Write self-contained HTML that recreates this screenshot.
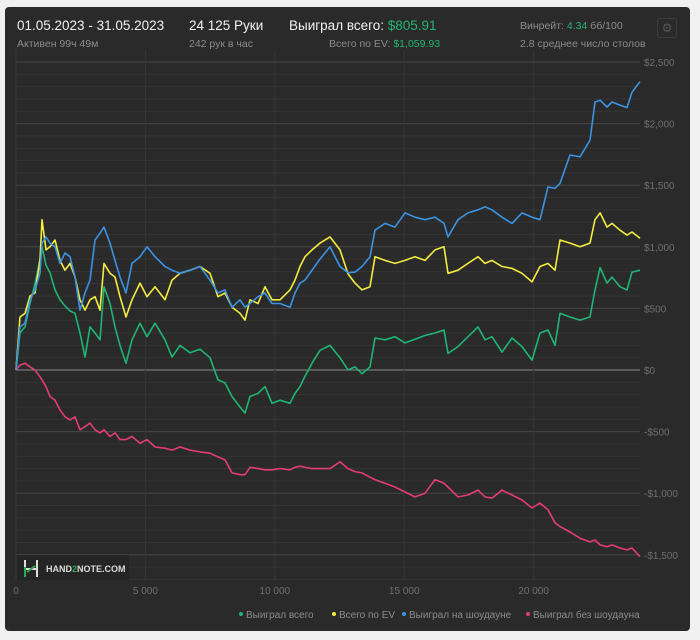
<!DOCTYPE html>
<html><head><meta charset="utf-8"><style>
html,body{margin:0;padding:0;background:#f0f0f0;width:700px;height:640px;overflow:hidden;font-family:"Liberation Sans","DejaVu Sans",sans-serif;}
#panel{position:absolute;left:5px;top:7px;width:685px;height:624px;background:#2a2a2a;border-radius:4px;}
.t{position:absolute;white-space:nowrap;}
.big{font-size:13.5px;color:#f2f2f2;}
.sm{font-size:10.5px;color:#8c8c8c;}
.g{color:#22b573;}
#gear{position:absolute;left:652px;top:11px;width:18px;height:18px;border:1px solid #3c3c3c;border-radius:3px;color:#555;font-size:12px;text-align:center;line-height:18px;}
svg{position:absolute;left:0;top:0;}
</style></head><body>
<div id="panel">
<div class="t big" style="left:12px;top:11px">01.05.2023 - 31.05.2023</div>
<div class="t sm" style="left:12px;top:31px">Активен 99ч 49м</div>
<div class="t big" style="left:184px;top:11px">24 125 Руки</div>
<div class="t sm" style="left:184px;top:31px">242 рук в час</div>
<div class="t big" style="left:284px;top:11px">Выиграл всего: <span class="g">$805.91</span></div>
<div class="t sm" style="left:324px;top:31px">Всего по EV: <span class="g">$1,059.93</span></div>
<div class="t sm" style="left:515px;top:13px">Винрейт: <span class="g">4.34</span> бб/100</div>
<div class="t sm" style="left:515px;top:31px">2.8 среднее число столов</div>
<div id="gear">⚙</div>
</div>
<svg id="chart" width="700" height="640"></svg>
<script>
const hands=[0,155,348,541,734,927,1005,1159,1314,1507,1700,1893,2087,2280,2473,2666,2859,3053,3246,3400,3632,3825,4019,4250,4482,4791,5062,5371,5757,6028,6337,6724,7110,7496,7805,8076,8346,8655,8849,9042,9351,9621,9892,10201,10587,10780,10974,11167,11437,11747,12133,12519,12828,13099,13369,13679,13872,14258,14645,15031,15417,15804,16190,16538,16692,17079,17465,17852,18122,18393,18779,19165,19552,19938,20247,20556,20826,21020,21406,21793,22179,22372,22566,22836,23029,23338,23608,23802,24111];
const wonTotal=[0,300,350,540,700,900,1000,850,790,650,570,520,480,460,300,105,350,300,245,675,540,350,200,55,245,380,270,380,245,105,200,140,170,100,-80,-105,-215,-300,-350,-215,-190,-135,-270,-245,-270,-190,-135,-50,55,160,200,100,0,25,-30,25,260,245,270,220,250,280,300,325,135,190,270,350,245,270,145,260,190,80,300,325,200,460,430,405,430,650,830,705,755,675,650,795,810];
const evTotal=[0,430,460,600,625,890,1220,975,1000,1055,890,810,865,755,570,485,570,595,485,865,785,755,595,430,570,705,595,675,570,730,785,810,840,785,595,625,510,460,405,570,540,675,570,570,650,730,840,920,975,1030,1080,975,780,705,650,675,920,890,865,890,920,890,975,1000,785,810,865,920,865,890,840,825,785,715,840,865,810,1055,1030,1000,1030,1220,1275,1160,1190,1135,1095,1120,1070];
const showdown=[0,350,380,570,650,785,1030,1080,1030,1000,865,950,920,755,485,625,730,1055,1110,1160,1030,890,755,625,865,920,1000,920,840,810,785,810,840,730,625,650,510,570,510,540,595,625,540,540,510,625,705,730,810,900,1000,840,790,795,840,920,1135,1190,1160,1275,1240,1220,1240,1190,1080,1220,1275,1300,1325,1300,1240,1190,1275,1240,1220,1485,1475,1515,1745,1730,1865,2175,2190,2135,2175,2150,2130,2255,2340];
const nonShowdown=[0,40,55,25,0,-55,-80,-135,-215,-245,-325,-380,-405,-380,-485,-460,-430,-485,-510,-485,-540,-510,-565,-565,-540,-595,-565,-625,-635,-650,-625,-650,-665,-675,-705,-730,-835,-850,-850,-790,-800,-810,-810,-800,-810,-790,-780,-790,-800,-800,-800,-745,-800,-825,-835,-870,-890,-920,-950,-990,-1030,-1000,-890,-920,-950,-1030,-1015,-975,-1030,-1040,-975,-1015,-1055,-1120,-1080,-1135,-1240,-1270,-1315,-1365,-1395,-1380,-1420,-1435,-1420,-1445,-1460,-1445,-1515];
const yTicks=[2500,2000,1500,1000,500,0,-500,-1000,-1500];
const yTickLabels=["$2,500","$2,000","$1,500","$1,000","$500","$0","-$500","-$1,000","-$1,500"];
const xTicks=[0,5000,10000,15000,20000];
const xTickLabels=["0","5 000","10 000","15 000","20 000"];
const seriesNames=["Выиграл всего","Всего по EV","Выиграл на шоудауне","Выиграл без шоудауна"];

const NS="http://www.w3.org/2000/svg";
const svg=document.getElementById('chart');
const L=16,R=640,T=50,B=580;
const xS=h=>16+h*0.025882;
const yS=v=>370-v*0.1232;
function mk(tag,at){const e=document.createElementNS(NS,tag);for(const k in at)e.setAttribute(k,at[k]);svg.appendChild(e);return e;}
for(let v=-1700;v<=2500;v+=100){
  const l=mk('line',{x1:L,x2:R,y1:yS(v),y2:yS(v),stroke:v===0?'#8a8a8a':(v%500===0?'#464646':'#343434'),'stroke-width':1});
  
  
}
xTicks.forEach((h,i)=>{
  const l=mk('line',{x1:xS(h),x2:xS(h),y1:T,y2:B,stroke:'#363636','stroke-width':1});
  
  
  const t=mk('text',{x:xS(h),y:594,fill:'#6f6f6f','font-size':10,'text-anchor':'middle','font-family':'Liberation Sans, sans-serif'});
  t.textContent=xTickLabels[i];
  
  
});
yTicks.forEach((v,i)=>{
  const t=mk('text',{x:644,y:yS(v)+4,fill:'#6f6f6f','font-size':10,'font-family':'Liberation Sans, sans-serif'});
  t.textContent=yTickLabels[i];
  
  
});
const lg=mk('rect',{x:17,y:555,width:112,height:25,fill:'#252525'});


const lp=mk('path',{d:'M25 560 V577 M37 560 V577 M25 569 H31 L37 569',stroke:'#ddd','stroke-width':2,fill:'none'});


const lg2=mk('path',{d:'M25 567 V577 M27 572 L35 566',stroke:'#2fa84f','stroke-width':2,fill:'none'});


const lt=mk('text',{x:46,y:572,fill:'#dcdcdc','font-size':9,'font-weight':'bold','font-family':'Liberation Sans, sans-serif'});
lt.innerHTML='HAND<tspan fill="#2fa84f">2</tspan>NOTE.COM';


const colors=['#1fb574','#f4ec3f','#3b93e3','#e33d73'];
const slugs=['won-total-line','ev-total-line','showdown-line','non-showdown-line'];
const order=[3,0,1,2];
const data=[wonTotal,evTotal,showdown,nonShowdown];
order.forEach(si=>{
  const d=data[si].map((v,i)=>(i?'L':'M')+xS(hands[i]).toFixed(1)+' '+yS(v).toFixed(1)).join(' ');
  const p=mk('path',{d:d,stroke:colors[si],'stroke-width':1.6,fill:'none','stroke-linejoin':'round'});
  
  
});
let lx=[241,334,404,528];
seriesNames.forEach((n,i)=>{
  const c=mk('circle',{cx:lx[i],cy:614,r:2,fill:colors[i]});
  
  
  const t=mk('text',{x:lx[i]+5,y:618,fill:'#8c8c8c','font-size':10,'font-family':'Liberation Sans, sans-serif'});
  t.textContent=n;
  
  
});
</script>
</body></html>
